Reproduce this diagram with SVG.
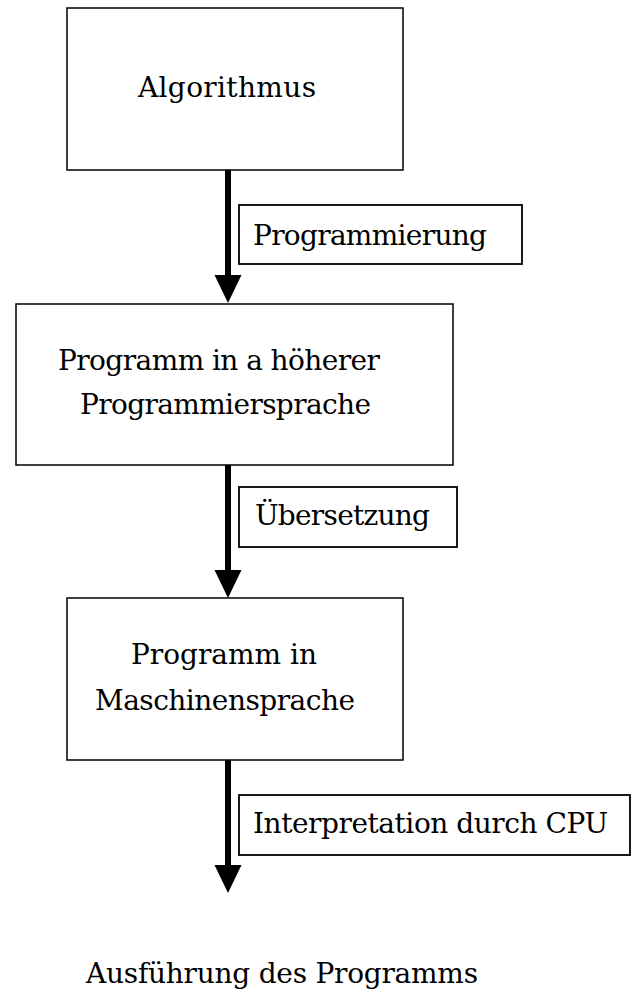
<svg xmlns="http://www.w3.org/2000/svg" width="632" height="994" viewBox="0 0 632 994">
  <defs>
    <style>
      .box { fill: #ffffff; stroke: #000000; stroke-width: 1.5; }
      .lbl { fill: #ffffff; stroke: #000000; stroke-width: 1.8; }
      .txt { font-family: "DejaVu Serif", "Liberation Serif", serif; font-size: 28px; fill: #000000; }
      .flow { stroke: #000000; stroke-width: 6; fill: none; }
    </style>
    <marker id="head" markerUnits="userSpaceOnUse" markerWidth="29" markerHeight="28" viewBox="0 -14 29 28" refX="0" refY="0" orient="auto">
      <path d="M0,-13.5 L28,0 L0,13.5 Z" fill="#000000"/>
    </marker>
  </defs>

  <rect width="632" height="994" fill="#ffffff"/>

  <!-- connectors -->
  <g id="connectors">
    <line class="flow" x1="228" y1="170" x2="228" y2="275" marker-end="url(#head)"/>
    <line class="flow" x1="228" y1="465" x2="228" y2="570" marker-end="url(#head)"/>
    <line class="flow" x1="228" y1="760" x2="228" y2="865" marker-end="url(#head)"/>
  </g>

  <!-- process steps -->
  <g id="algorithmus">
    <rect class="box" x="67" y="8" width="336" height="162"/>
    <text class="txt" x="138" y="97" textLength="178" lengthAdjust="spacing">Algorithmus</text>
  </g>

  <g id="hochsprache">
    <rect class="box" x="16" y="304" width="437" height="161"/>
    <text class="txt" x="58" y="370" textLength="322" lengthAdjust="spacing">Programm in a höherer</text>
    <text class="txt" x="80" y="414" textLength="291" lengthAdjust="spacing">Programmiersprache</text>
  </g>

  <g id="maschinensprache">
    <rect class="box" x="67" y="598" width="336" height="162"/>
    <text class="txt" x="131" y="664" textLength="186" lengthAdjust="spacing">Programm in</text>
    <text class="txt" x="95" y="710" textLength="260" lengthAdjust="spacing">Maschinensprache</text>
  </g>

  <g id="ausfuehrung">
    <text class="txt" x="86" y="983" textLength="392" lengthAdjust="spacing">Ausführung des Programms</text>
  </g>

  <!-- transition labels -->
  <g id="label-programmierung">
    <rect class="lbl" x="239" y="205" width="283" height="59"/>
    <text class="txt" x="253" y="245" textLength="234" lengthAdjust="spacing">Programmierung</text>
  </g>

  <g id="label-uebersetzung">
    <rect class="lbl" x="239" y="487" width="218" height="60"/>
    <text class="txt" x="255" y="525" textLength="175" lengthAdjust="spacing">Übersetzung</text>
  </g>

  <g id="label-interpretation">
    <rect class="lbl" x="239" y="795" width="391" height="60"/>
    <text class="txt" x="253" y="833" textLength="355" lengthAdjust="spacing">Interpretation durch CPU</text>
  </g>
</svg>
